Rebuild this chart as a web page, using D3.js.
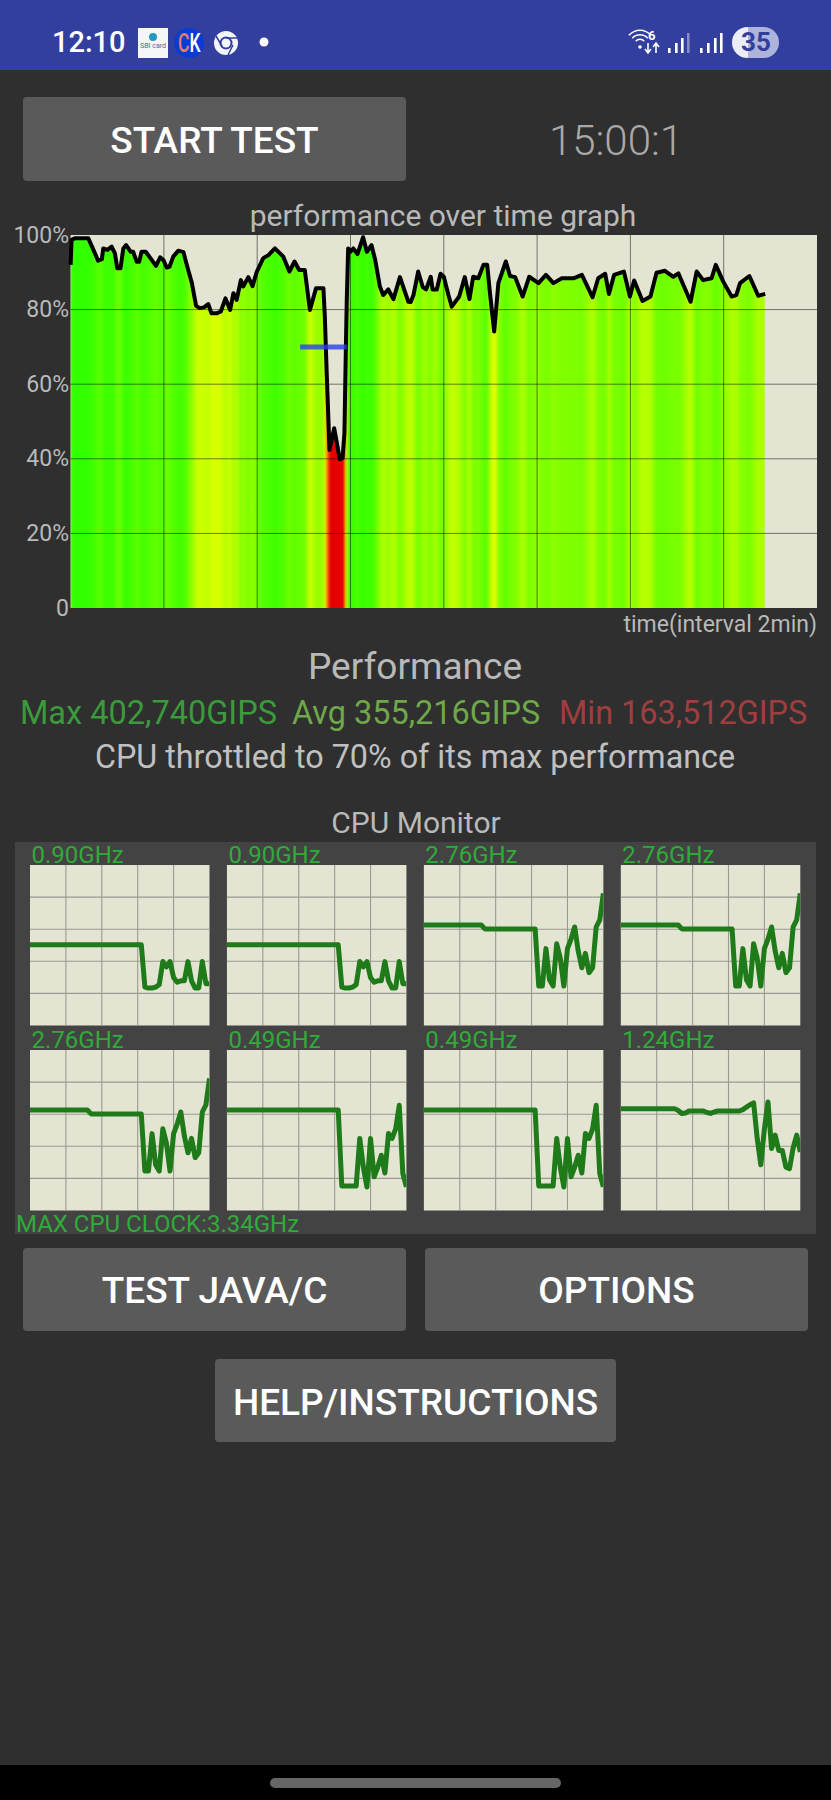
<!DOCTYPE html>
<html>
<head>
<meta charset="utf-8">
<style>
  body { margin: 0; background: #2f2f2f; }
  text { font-family: Roboto, sans-serif; }
</style>
<script src="https://cdn.jsdelivr.net/npm/d3@7"></script>
</head>
<body>
<script>
// performance over time
const perfMinutes = [
  0, 0.02, 0.09, 0.38, 0.49, 0.59, 0.67, 0.70, 0.79, 0.88, 0.95, 1.00, 1.07, 1.13, 1.19, 1.29, 1.34, 1.42, 1.47, 1.52,
  1.61, 1.70, 1.83, 1.92, 1.99, 2.06, 2.12, 2.20, 2.31, 2.42, 2.49, 2.60, 2.69, 2.77, 2.86, 2.95, 3.02, 3.13, 3.22, 3.32,
  3.42, 3.49, 3.56, 3.65, 3.70, 3.81, 3.90, 3.99, 4.13, 4.24, 4.38, 4.56, 4.69, 4.80, 4.90, 5.02, 5.13, 5.26, 5.42, 5.45,
  5.49, 5.55, 5.65, 5.77, 5.83, 5.87, 5.90, 5.92, 5.95, 6.00, 6.06, 6.15, 6.27, 6.35, 6.45, 6.53, 6.63, 6.70, 6.81, 6.92,
  7.06, 7.24, 7.29, 7.35, 7.45, 7.55, 7.62, 7.72, 7.76, 7.85, 7.93, 8.00, 8.10, 8.17, 8.33, 8.45, 8.55, 8.63, 8.74, 8.85,
  8.93, 8.99, 9.08, 9.17, 9.33, 9.42, 9.53, 9.69, 9.83, 10.03, 10.19, 10.35, 10.53, 10.78, 10.96, 11.19, 11.31, 11.46, 11.54, 11.65,
  11.86, 11.99, 12.08, 12.26, 12.43, 12.56, 12.74, 12.92, 13.03, 13.29, 13.42, 13.56, 13.74, 13.83, 13.99, 14.17, 14.27, 14.35, 14.55, 14.74,
  14.89
]
const perfPercent = [
  92.0, 98.7, 99.1, 99.1, 96.0, 93.1, 93.5, 96.4, 96.0, 96.9, 95.1, 91.1, 91.1, 96.4, 97.3, 95.5, 95.5, 92.8, 92.8, 95.5,
  95.5, 94.0, 91.7, 94.0, 93.3, 91.3, 91.5, 94.2, 95.8, 95.4, 92.0, 87.1, 81.0, 80.4, 80.6, 81.5, 79.0, 79.0, 79.5, 83.0,
  79.9, 84.4, 82.6, 87.9, 86.2, 88.7, 86.3, 90.1, 93.8, 94.6, 96.4, 94.2, 90.2, 92.9, 90.6, 90.6, 79.9, 85.7, 85.7, 78.1,
  62.9, 42.4, 48.2, 39.9, 40.2, 46.9, 69.2, 82.6, 96.4, 95.5, 96.4, 94.9, 99.4, 95.5, 97.3, 93.3, 86.2, 83.9, 85.4, 82.8,
  88.7, 82.1, 82.0, 83.9, 90.2, 86.0, 85.4, 88.8, 85.4, 85.4, 89.6, 88.8, 83.9, 80.8, 83.5, 88.7, 82.8, 88.8, 88.4, 92.0,
  92.0, 84.4, 74.1, 87.1, 92.9, 89.0, 88.7, 83.5, 88.8, 87.1, 89.3, 87.1, 88.4, 88.4, 89.3, 83.3, 88.4, 89.6, 84.2, 89.3,
  90.2, 83.5, 87.8, 82.3, 83.5, 89.9, 90.4, 88.8, 89.7, 82.1, 90.2, 87.9, 88.4, 92.0, 87.5, 83.5, 83.9, 87.1, 89.0, 83.7,
  84.2
]
const perfTicks = [0, 20, 40, 60, 80, 100]
const timeTicks = [2, 4, 6, 8, 10, 12, 14]
const throttleLevel = 70
const throttleSpan = [4.92, 5.92]

// colour of the bars against performance
const heatStops = [50, 60, 72, 80, 85, 90, 98]
const heatColors = ['#e60000', '#ff6600', '#ffff00', '#d0ff00', '#a0ff00', '#70ff00', '#33ff00']

// CPU clocks in GHz, one sample per step of the small graphs
const maxClock = 3.34
const clockA = [
  1.68, 1.68, 1.68, 1.68, 1.68, 1.68, 1.68, 1.68, 1.68, 1.68, 1.68, 1.68, 1.68, 1.68, 1.68, 1.68, 1.68,
  1.68, 1.68, 1.68, 1.68, 1.68, 1.68, 1.68, 1.68, 1.68, 1.68, 1.68, 1.68, 1.68, 1.68, 1.68,
  0.80, 0.78, 0.78, 0.80, 0.85, 1.33, 1.22, 1.33, 1.00, 0.90, 0.93, 0.93, 1.33, 0.93, 0.78, 0.78, 1.33, 0.87, 0.87
]
const clockB = [
  2.09, 2.09, 2.09, 2.09, 2.09, 2.09, 2.09, 2.09, 2.09, 2.09, 2.09, 2.09, 2.09, 2.09, 2.09, 2.09, 2.09,
  2.01, 2.01, 2.01, 2.01, 2.01, 2.01, 2.01, 2.01, 2.01, 2.01, 2.01, 2.01, 2.01, 2.01, 2.01,
  0.82, 0.82, 1.60, 0.95, 0.82, 1.70, 1.40, 0.82, 1.60, 1.80, 2.05, 1.55, 1.20, 1.50, 1.10, 1.20, 2.05, 2.20, 2.75
]
const clockC = [
  2.09, 2.09, 2.09, 2.09, 2.09, 2.09, 2.09, 2.09, 2.09, 2.09, 2.09, 2.09, 2.09, 2.09, 2.09, 2.09, 2.09,
  2.09, 2.09, 2.09, 2.09, 2.09, 2.09, 2.09, 2.09, 2.09, 2.09, 2.09, 2.09, 2.09, 2.09, 2.09,
  0.51, 0.51, 0.51, 0.51, 0.51, 1.50, 0.90, 0.49, 1.50, 0.70, 0.90, 1.15, 0.78, 1.60, 1.50, 1.70, 2.19, 0.77, 0.49
]
const clockD = [
  2.12, 2.12, 2.12, 2.12, 2.12, 2.12, 2.12, 2.12, 2.12, 2.12, 2.12, 2.12, 2.12, 2.12, 2.12, 2.12, 2.08,
  2.02, 2.03, 2.07, 2.07, 2.07, 2.07, 2.07, 2.04, 2.02, 2.05, 2.07, 2.07, 2.07, 2.07, 2.07,
  2.07, 2.07, 2.10, 2.15, 2.20, 2.24, 1.50, 0.95, 1.70, 2.26, 1.29, 1.57, 1.25, 1.25, 0.90, 0.87, 1.30, 1.57, 1.22
]
const clockLabels = ['0.90GHz', '0.90GHz', '2.76GHz', '2.76GHz', '2.76GHz', '0.49GHz', '0.49GHz', '1.24GHz']
const clockSeries = [clockA, clockA, clockB, clockB, clockB, clockC, clockC, clockD]
const clockGrid = [0.2, 0.4, 0.6, 0.8]

const svg = d3.select('body').append('svg')
  .attr('width', 831)
  .attr('height', 1800)
  .style('display', 'block')

const defs = svg.append('defs')

function label (txt, x, y, size, fill, anchor, weight) {
  return svg.append('text')
    .attr('x', x)
    .attr('y', y)
    .attr('font-size', size)
    .attr('fill', fill)
    .attr('text-anchor', anchor || 'start')
    .attr('font-weight', weight || 400)
    .text(txt)
}

function button (txt, x0, y0, x1, y1, baseline) {
  svg.append('rect')
    .attr('x', x0)
    .attr('y', y0)
    .attr('width', x1 - x0)
    .attr('height', y1 - y0)
    .attr('rx', 4)
    .attr('fill', '#5a5a5b')
  label(txt, (x0 + x1) / 2, baseline, 37, '#fff', 'middle', 500)
}

// ---------------------------------------
// status bar
// ---------------------------------------
function drawStatusBar () {
  svg.append('rect').attr('width', 831).attr('height', 70).attr('fill', '#333f9e')
  label('12:10', 52, 52, 29, '#fff', 'start', 500)

  svg.append('rect').attr('x', 138).attr('y', 28).attr('width', 30).attr('height', 30).attr('fill', '#f4f6f8')
  svg.append('circle').attr('cx', 153).attr('cy', 37).attr('r', 4).attr('fill', '#1f9bc4')
  label('SBI card', 140, 48, 7.5, '#3b6f9c').attr('textLength', 26).attr('lengthAdjust', 'spacingAndGlyphs')

  svg.append('circle').attr('cx', 189).attr('cy', 43).attr('r', 15).attr('fill', '#0b3bd6')
  const ck = label('', 178, 52, 26, '#fff', 'start', 500)
    .attr('textLength', 22.5)
    .attr('lengthAdjust', 'spacingAndGlyphs')
  ck.append('tspan').attr('fill', '#e57d63').text('C')
  ck.append('tspan').text('K')

  svg.append('circle').attr('cx', 226).attr('cy', 43).attr('r', 12).attr('fill', '#f4f5fa')
  svg.append('circle').attr('cx', 226).attr('cy', 43).attr('r', 6.5).attr('fill', '#333f9e')
  svg.append('circle').attr('cx', 226).attr('cy', 43).attr('r', 4.5).attr('fill', '#f4f5fa')
  svg.append('path').attr('d', 'M216 36L222 46M237 38H226M228 55L233 45').attr('stroke', '#333f9e').attr('stroke-width', 1.5)

  svg.append('circle').attr('cx', 264).attr('cy', 42).attr('r', 4.5).attr('fill', '#fff')

  const arc = d3.arc()
  ;[[5, 6.5], [9.5, 11], [14, 15.5]].forEach(r => {
    svg.append('path')
      .attr('transform', 'translate(640,45)')
      .attr('d', arc({ innerRadius: r[0], outerRadius: r[1], startAngle: -0.85, endAngle: 0.85 }))
      .attr('fill', '#fff')
  })
  svg.append('circle').attr('cx', 640).attr('cy', 47).attr('r', 1.8).attr('fill', '#fff')
  label('6', 648, 40, 13, '#fff', 'start', 700)
  svg.append('path')
    .attr('d', 'M648 43V52M645 49L648 53L651 49M656 53V44M653 47L656 43L659 47')
    .attr('stroke', '#fff').attr('stroke-width', 1.6).attr('fill', 'none')

  ;[[668, 5, 1], [675, 10, 1], [681, 15, 1], [687, 20, 0.4], [700, 5, 1], [707, 10, 1], [714, 15, 1], [720, 20, 1]].forEach(b => {
    svg.append('rect')
      .attr('x', b[0])
      .attr('y', 53 - b[1])
      .attr('width', 2.6)
      .attr('height', b[1])
      .attr('fill', '#fff')
      .attr('opacity', b[2])
  })

  defs.append('clipPath').attr('id', 'battery')
    .append('rect').attr('x', 732).attr('y', 27).attr('width', 47).attr('height', 31).attr('rx', 15.5)
  const batt = svg.append('g').attr('clip-path', 'url(#battery)')
  batt.append('rect').attr('x', 732).attr('y', 27).attr('width', 16).attr('height', 31).attr('fill', '#eceef7')
  batt.append('rect').attr('x', 748).attr('y', 27).attr('width', 31).attr('height', 31).attr('fill', '#aeb3dc')
  label('35', 756, 51, 26, '#343f9b', 'middle', 700)
}

// ---------------------------------------
// performance over time graph
// ---------------------------------------
function drawPerformance () {
  const x = d3.scaleLinear().domain([0, 16]).range([70.6, 817])
  const y = d3.scaleLinear().domain([0, 100]).range([608, 235])
  const heat = d3.scaleLinear().domain(heatStops).range(heatColors).clamp(true)
  const perf = perfMinutes.map((t, i) => [t, perfPercent[i]])
  const lastMinute = perfMinutes[perfMinutes.length - 1]

  label('performance over time graph', 443, 226, 30, '#b9b9b9', 'middle')

  svg.append('rect')
    .attr('x', x(0))
    .attr('y', y(100))
    .attr('width', x(16) - x(0))
    .attr('height', y(0) - y(100))
    .attr('fill', '#e4e4d3')

  const grad = defs.append('linearGradient')
    .attr('id', 'heat')
    .attr('gradientUnits', 'userSpaceOnUse')
    .attr('x1', x(0))
    .attr('x2', x(lastMinute))
    .attr('y1', 0)
    .attr('y2', 0)
  grad.selectAll('stop').data(perf).join('stop')
    .attr('offset', d => d[0] / lastMinute)
    .attr('stop-color', d => heat(d[1]))

  // soften the colour bands sideways, then cut them to the area under the line
  const blur = defs.append('filter').attr('id', 'soften')
    .attr('x', 0).attr('y', 0).attr('width', 1).attr('height', 1)
  blur.append('feGaussianBlur').attr('stdDeviation', '1 0')

  const area = d3.area().x(d => x(d[0])).y0(y(0)).y1(d => y(d[1]))
  defs.append('clipPath').attr('id', 'underLine')
    .append('path').attr('d', area(perf))
  svg.append('g').attr('clip-path', 'url(#underLine)')
    .append('rect')
    .attr('x', x(0))
    .attr('y', y(100))
    .attr('width', x(lastMinute) - x(0))
    .attr('height', y(0) - y(100))
    .attr('fill', 'url(#heat)')
    .attr('filter', 'url(#soften)')

  const grid = svg.append('g')
  grid.selectAll('.gx').data(timeTicks).join('line')
    .attr('class', 'gx')
    .attr('x1', d => x(d)).attr('x2', d => x(d))
    .attr('y1', y(100)).attr('y2', y(0))
  grid.selectAll('.gy').data(perfTicks.slice(1, -1)).join('line')
    .attr('class', 'gy')
    .attr('x1', x(0)).attr('x2', x(16))
    .attr('y1', d => y(d)).attr('y2', d => y(d))
  grid.selectAll('line').attr('stroke', '#000').attr('stroke-opacity', 0.5).attr('stroke-width', 1)

  svg.append('path')
    .attr('d', d3.line().x(d => x(d[0])).y(d => y(d[1]))(perf))
    .attr('fill', 'none')
    .attr('stroke', '#000')
    .attr('stroke-width', 4)
    .attr('stroke-linejoin', 'round')

  svg.append('line')
    .attr('x1', x(throttleSpan[0])).attr('x2', x(throttleSpan[1]))
    .attr('y1', y(throttleLevel)).attr('y2', y(throttleLevel))
    .attr('stroke', '#2a3fe8')
    .attr('stroke-opacity', 0.8)
    .attr('stroke-width', 5)

  const axis = d3.axisLeft(y)
    .tickValues(perfTicks)
    .tickSize(0)
    .tickPadding(1)
    .tickFormat(d => d === 0 ? '0' : d + '%')
  const ax = svg.append('g').attr('transform', 'translate(70,0)').call(axis)
  ax.select('.domain').remove()
  ax.selectAll('text')
    .attr('font-family', 'Roboto, sans-serif')
    .attr('font-size', 23)
    .attr('fill', '#b9b9b9')
    .attr('dy', 7)

  label('time(interval 2min)', 817, 632, 23, '#b9b9b9', 'end')
}

// ---------------------------------------
// CPU monitor
// ---------------------------------------
function drawCpuMonitor () {
  label('CPU Monitor', 416, 833, 30, '#b9b9b9', 'middle')
  svg.append('rect')
    .attr('x', 15).attr('y', 842)
    .attr('width', 801).attr('height', 392)
    .attr('fill', '#434343')

  const colX = d3.scaleBand().domain(d3.range(4)).range([30, 800.3]).paddingInner(0.0885)
  const rowTops = [865, 1050]
  const chartH = 160.5

  clockSeries.forEach((series, i) => {
    const x0 = colX(i % 4)
    const top = rowTops[Math.floor(i / 4)]
    const x = d3.scaleLinear().domain([0, series.length - 1]).range([x0, x0 + colX.bandwidth()])
    const y = d3.scaleLinear().domain([0, maxClock]).range([top + chartH, top])
    const fx = d3.scaleLinear().domain([0, 1]).range(x.range())
    const fy = d3.scaleLinear().domain([0, 1]).range(y.range())

    const clipId = 'cpu' + i
    defs.append('clipPath').attr('id', clipId)
      .append('rect')
      .attr('x', x0).attr('y', top)
      .attr('width', colX.bandwidth()).attr('height', chartH)

    const g = svg.append('g')
    g.append('rect')
      .attr('x', x0).attr('y', top)
      .attr('width', colX.bandwidth()).attr('height', chartH)
      .attr('fill', '#e4e4d3')
    g.selectAll('.v').data(clockGrid).join('line')
      .attr('class', 'v')
      .attr('x1', d => fx(d)).attr('x2', d => fx(d))
      .attr('y1', top).attr('y2', top + chartH)
    g.selectAll('.h').data(clockGrid).join('line')
      .attr('class', 'h')
      .attr('x1', x0).attr('x2', x0 + colX.bandwidth())
      .attr('y1', d => fy(d)).attr('y2', d => fy(d))
    g.selectAll('line').attr('stroke', '#9a9a90').attr('stroke-width', 1.1)

    g.append('path')
      .attr('clip-path', `url(#${clipId})`)
      .attr('d', d3.line().x((d, j) => x(j)).y(d => y(d))(series))
      .attr('fill', 'none')
      .attr('stroke', '#1f7a1a')
      .attr('stroke-width', 5)
      .attr('stroke-linejoin', 'round')

    label(clockLabels[i], x0 + 1.5, top - 2, 24, '#30ab3a')
  })

  label('MAX CPU CLOCK:3.34GHz', 16, 1232, 24, '#30ab3a')
}

drawStatusBar()
button('START TEST', 23, 97, 406, 181, 153)
label('15:00:1', 616, 155, 42, '#a9a9a9', 'middle', 300)
drawPerformance()

label('Performance', 415, 679, 37, '#b9b9b9', 'middle')
label('Max 402,740GIPS', 20, 724, 32.5, '#3b9a3b')
label('Avg 355,216GIPS', 292, 724, 32.4, '#6fa84a')
label('Min 163,512GIPS', 559, 724, 32.4, '#9e3f3f')
label('CPU throttled to 70% of its max performance', 415, 768, 32.3, '#c0c0c0', 'middle')

drawCpuMonitor()
button('TEST JAVA/C', 23, 1248, 406, 1331, 1303)
button('OPTIONS', 425, 1248, 808, 1331, 1303)
button('HELP/INSTRUCTIONS', 215, 1359, 616, 1442, 1415)

svg.append('rect').attr('y', 1765).attr('width', 831).attr('height', 35).attr('fill', '#000')
svg.append('rect')
  .attr('x', 270).attr('y', 1778)
  .attr('width', 291).attr('height', 10)
  .attr('rx', 5)
  .attr('fill', '#666')
</script>
</body>
</html>
